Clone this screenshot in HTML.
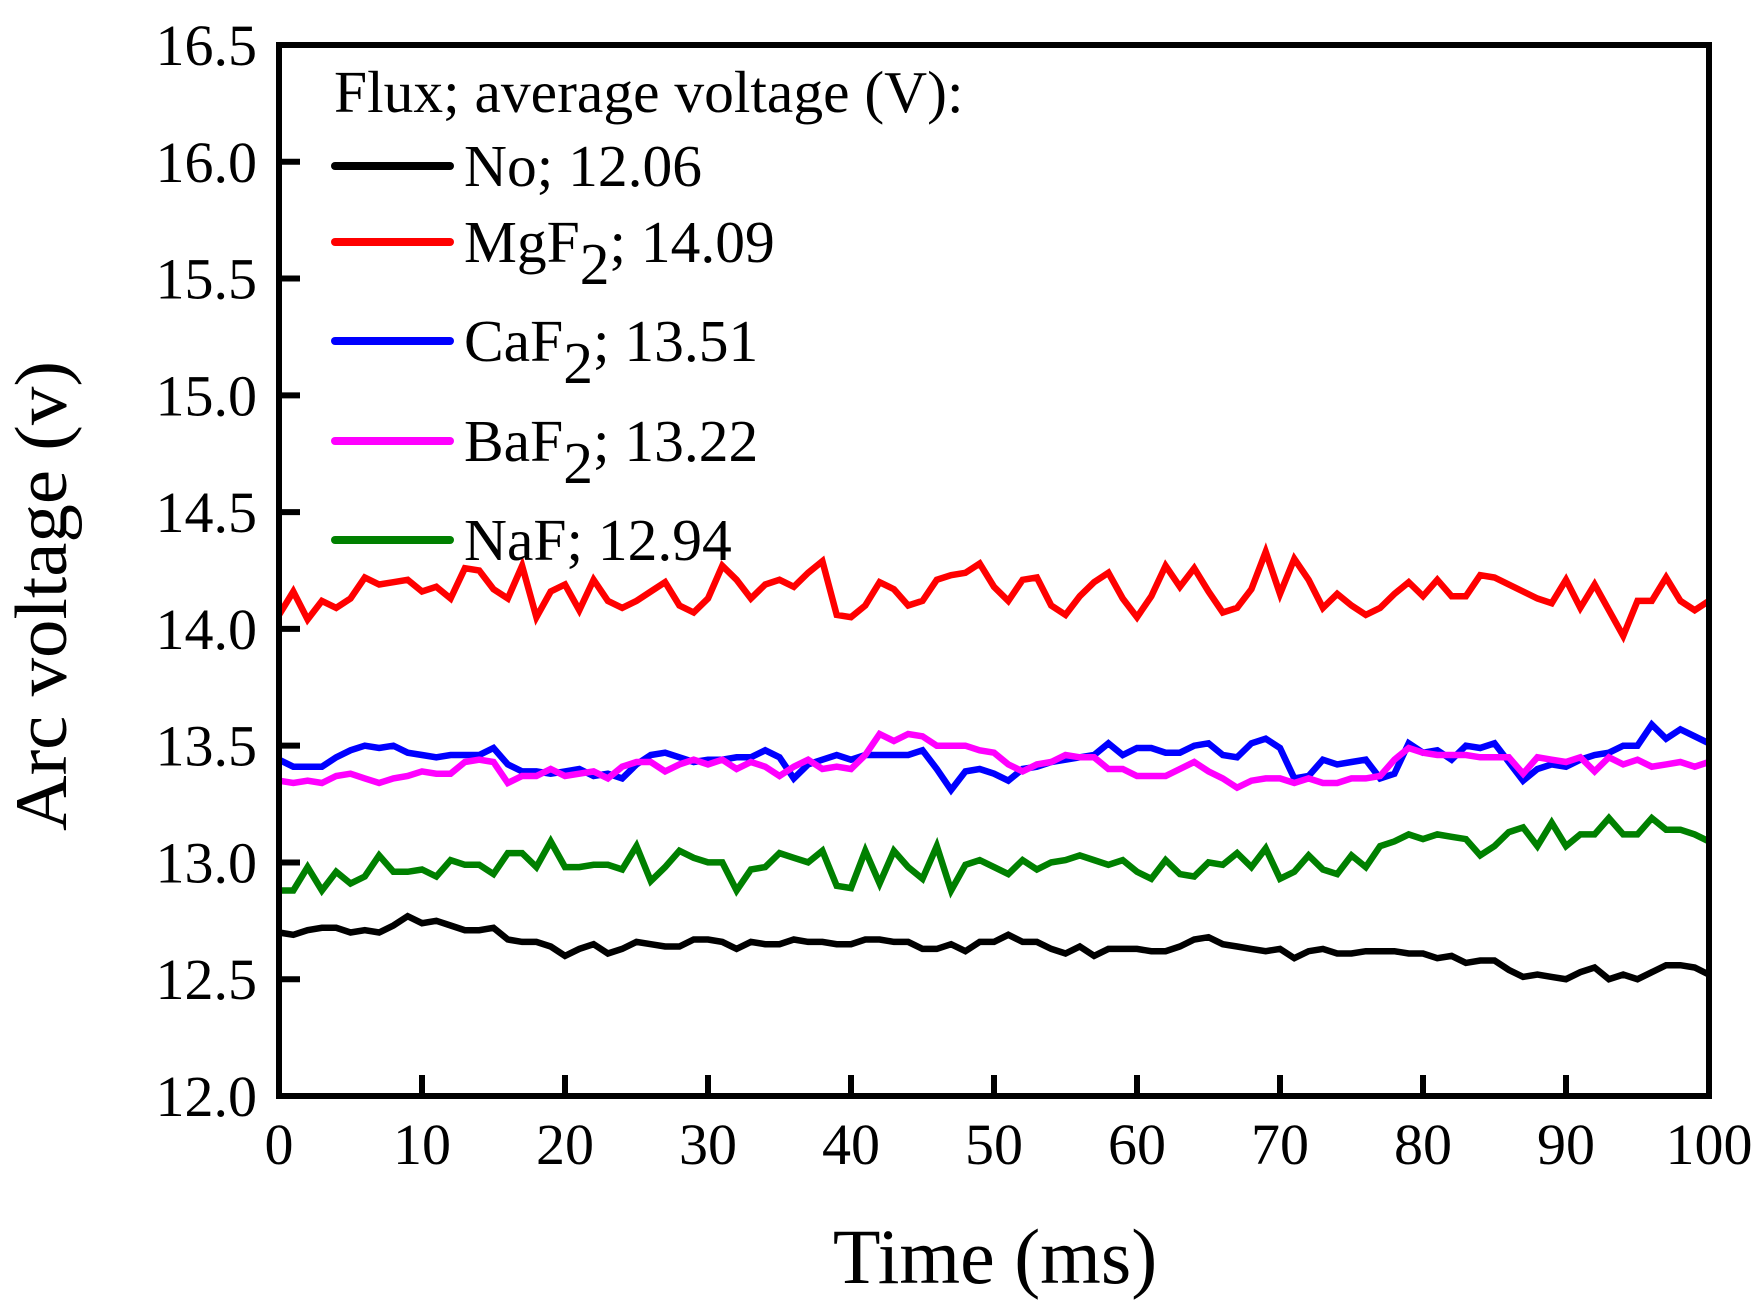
<!DOCTYPE html>
<html><head><meta charset="utf-8"><style>
html,body{margin:0;padding:0;background:#fff;}
svg{display:block;font-family:"Liberation Serif",serif;}
</style></head><body>
<svg id="chart" width="1763" height="1309" viewBox="0 0 1763 1309" xmlns="http://www.w3.org/2000/svg">
<rect x="0" y="0" width="1763" height="1309" fill="#fff"/>
<g id="series"></g>
<g id="axes"></g>
<g id="legend"></g>
<text x="995" y="1283" font-size="78" text-anchor="middle">Time (ms)</text>
<text transform="translate(66,596) rotate(-90)" font-size="74" text-anchor="middle" textLength="470" lengthAdjust="spacingAndGlyphs">Arc voltage (v)</text>
</svg>
<script>
const xTicks=[0,10,20,30,40,50,60,70,80,90,100];
const yTicks=[12.0,12.5,13.0,13.5,14.0,14.5,15.0,15.5,16.0,16.5];
const seriesNames=["No","MgF2","CaF2","BaF2","NaF"];
const avgVoltages=["12.06","14.09","13.51","13.22","12.94"];
const noFlux=[12.70,12.69,12.71,12.72,12.72,12.70,12.71,12.70,12.73,12.77,12.74,12.75,12.73,12.71,12.71,12.72,12.67,12.66,12.66,12.64,12.60,12.63,12.65,12.61,12.63,12.66,12.65,12.64,12.64,12.67,12.67,12.66,12.63,12.66,12.65,12.65,12.67,12.66,12.66,12.65,12.65,12.67,12.67,12.66,12.66,12.63,12.63,12.65,12.62,12.66,12.66,12.69,12.66,12.66,12.63,12.61,12.64,12.60,12.63,12.63,12.63,12.62,12.62,12.64,12.67,12.68,12.65,12.64,12.63,12.62,12.63,12.59,12.62,12.63,12.61,12.61,12.62,12.62,12.62,12.61,12.61,12.59,12.60,12.57,12.58,12.58,12.54,12.51,12.52,12.51,12.50,12.53,12.55,12.50,12.52,12.50,12.53,12.56,12.56,12.55,12.52];
const mgf2=[14.06,14.16,14.04,14.12,14.09,14.13,14.22,14.19,14.20,14.21,14.16,14.18,14.13,14.26,14.25,14.17,14.13,14.27,14.05,14.16,14.19,14.08,14.21,14.12,14.09,14.12,14.16,14.20,14.10,14.07,14.13,14.27,14.21,14.13,14.19,14.21,14.18,14.24,14.29,14.06,14.05,14.10,14.20,14.17,14.10,14.12,14.21,14.23,14.24,14.28,14.18,14.12,14.21,14.22,14.10,14.06,14.14,14.20,14.24,14.13,14.05,14.14,14.27,14.18,14.26,14.16,14.07,14.09,14.17,14.33,14.15,14.30,14.21,14.09,14.15,14.10,14.06,14.09,14.15,14.20,14.14,14.21,14.14,14.14,14.23,14.22,14.19,14.16,14.13,14.11,14.21,14.09,14.19,14.08,13.97,14.12,14.12,14.22,14.12,14.08,14.12];
const caf2=[13.44,13.41,13.41,13.41,13.45,13.48,13.50,13.49,13.50,13.47,13.46,13.45,13.46,13.46,13.46,13.49,13.42,13.39,13.39,13.38,13.39,13.40,13.37,13.38,13.36,13.42,13.46,13.47,13.45,13.43,13.44,13.44,13.45,13.45,13.48,13.45,13.36,13.42,13.44,13.46,13.44,13.46,13.46,13.46,13.46,13.48,13.40,13.31,13.39,13.40,13.38,13.35,13.40,13.41,13.43,13.44,13.45,13.46,13.51,13.46,13.49,13.49,13.47,13.47,13.50,13.51,13.46,13.45,13.51,13.53,13.49,13.36,13.37,13.44,13.42,13.43,13.44,13.36,13.38,13.51,13.47,13.48,13.44,13.50,13.49,13.51,13.43,13.35,13.40,13.42,13.41,13.44,13.46,13.47,13.50,13.50,13.59,13.53,13.57,13.54,13.51];
const baf2=[13.35,13.34,13.35,13.34,13.37,13.38,13.36,13.34,13.36,13.37,13.39,13.38,13.38,13.43,13.44,13.43,13.34,13.37,13.37,13.40,13.37,13.38,13.39,13.36,13.41,13.43,13.43,13.39,13.42,13.44,13.42,13.44,13.40,13.43,13.41,13.37,13.41,13.44,13.40,13.41,13.40,13.46,13.55,13.52,13.55,13.54,13.50,13.50,13.50,13.48,13.47,13.42,13.39,13.42,13.43,13.46,13.45,13.45,13.40,13.40,13.37,13.37,13.37,13.40,13.43,13.39,13.36,13.32,13.35,13.36,13.36,13.34,13.36,13.34,13.34,13.36,13.36,13.37,13.44,13.49,13.47,13.46,13.46,13.46,13.45,13.45,13.45,13.38,13.45,13.44,13.43,13.45,13.39,13.45,13.42,13.44,13.41,13.42,13.43,13.41,13.43];
const naf=[12.88,12.88,12.98,12.88,12.96,12.91,12.94,13.03,12.96,12.96,12.97,12.94,13.01,12.99,12.99,12.95,13.04,13.04,12.98,13.09,12.98,12.98,12.99,12.99,12.97,13.07,12.92,12.98,13.05,13.02,13.00,13.00,12.88,12.97,12.98,13.04,13.02,13.00,13.05,12.90,12.89,13.05,12.91,13.05,12.98,12.93,13.07,12.88,12.99,13.01,12.98,12.95,13.01,12.97,13.00,13.01,13.03,13.01,12.99,13.01,12.96,12.93,13.01,12.95,12.94,13.00,12.99,13.04,12.98,13.06,12.93,12.96,13.03,12.97,12.95,13.03,12.98,13.07,13.09,13.12,13.10,13.12,13.11,13.10,13.03,13.07,13.13,13.15,13.07,13.17,13.07,13.12,13.12,13.19,13.12,13.12,13.19,13.14,13.14,13.12,13.09];

const L=279,R=1709,T=45,B=1096;
const X0=0,X1=100,Y0=12,Y1=16.5;
const xs=v=>L+(v-X0)/(X1-X0)*(R-L);
const ys=v=>B-(v-Y0)/(Y1-Y0)*(B-T);
const NS="http://www.w3.org/2000/svg";
function mk(tag,attrs,parent){const e=document.createElementNS(NS,tag);for(const k in attrs)e.setAttribute(k,attrs[k]);parent.appendChild(e);return e;}

const sg=document.getElementById('series');
const allSeries=[noFlux,mgf2,caf2,baf2,naf];
const colors=["#000000","#ff0000","#0000ff","#ff00ff","#008000"];
const drawOrder=[0,1,2,3,4];
drawOrder.forEach(i=>{
  const d=allSeries[i].map((v,k)=>(k?'L':'M')+xs(k).toFixed(1)+','+ys(v).toFixed(1)).join(' ');
  const p=mk('path',{d:d,fill:'none',stroke:colors[i],'stroke-width':6.5,'stroke-linejoin':'miter','stroke-miterlimit':3},sg);
  
  
});

const ax=document.getElementById('axes');
const frame=mk('rect',{x:L,y:T,width:R-L,height:B-T,fill:'none',stroke:'#000','stroke-width':6},ax);


xTicks.forEach(t=>{
  const x=xs(t);
  const tk=mk('line',{x1:x,x2:x,y1:B,y2:B-21,stroke:'#000','stroke-width':6},ax);
  
  
  const lb=mk('text',{x:x,y:1164,'font-size':58,'text-anchor':'middle'},ax);
  lb.textContent=String(t);
  
  
});
yTicks.forEach(t=>{
  const y=ys(t);
  const tk=mk('line',{x1:L,x2:L+21,y1:y,y2:y,stroke:'#000','stroke-width':6},ax);
  
  
  const lb=mk('text',{x:257,y:y+20,'font-size':58,'text-anchor':'end'},ax);
  lb.textContent=t.toFixed(1);
  
  
});

const lg=document.getElementById('legend');
const hdr=mk('text',{x:334,y:112,'font-size':59.5},lg);
hdr.textContent='Flux; average voltage (V):';


const legY=[166,242,341,441,540];
seriesNames.forEach((n,i)=>{
  const ln=mk('line',{x1:335,x2:450,y1:legY[i],y2:legY[i],stroke:colors[i],'stroke-width':8,'stroke-linecap':'round'},lg);
  
  
  const tx=mk('text',{x:464,y:legY[i]+20,'font-size':59.5},lg);
  
  
  if(n.endsWith('2')){
    tx.appendChild(document.createTextNode(n.slice(0,-1)));
    const sub=mk('tspan',{dy:22},tx);sub.textContent='2';
    const rest=mk('tspan',{dy:-22},tx);rest.textContent='; '+avgVoltages[i];
  } else {
    tx.textContent=n+'; '+avgVoltages[i];
  }
});
</script>
</body></html>
